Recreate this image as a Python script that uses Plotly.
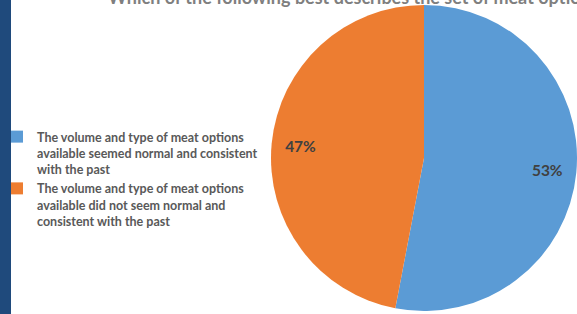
import plotly.graph_objects as go

labels = [
    "The volume and type of meat options<br>available seemed normal and consistent<br>with the past",
    "The volume and type of meat options<br>available did not seem normal and<br>consistent with the past",
]
values = [53, 47]
colors = ["#5B9BD5", "#ED7D31"]
title_text = "Which of the following best describes the set of meat options available?"

W, H = 577, 314
dom = dict(x=[271 / W, 1.0], y=[3 / H, 309 / H])

fig = go.Figure()
fig.add_trace(go.Pie(
    labels=labels,
    values=values,
    sort=False,
    direction="clockwise",
    rotation=0,
    marker=dict(colors=colors, line=dict(width=0)),
    textinfo="none",
    domain=dom,
    showlegend=True,
    hoverinfo="skip",
))
# transparent ring carrying the percentage labels (Excel places them near the rim)
fig.add_trace(go.Pie(
    labels=labels,
    values=values,
    sort=False,
    direction="clockwise",
    rotation=0,
    hole=0.62,
    marker=dict(colors=["rgba(0,0,0,0)"] * len(values), line=dict(width=0)),
    texttemplate="%{percent:.0%}",
    textposition="inside",
    insidetextorientation="horizontal",
    textfont=dict(family="Lato", size=15.5, color="#404040", weight="bold"),
    domain=dom,
    showlegend=False,
    hoverinfo="skip",
))

fig.update_layout(
    width=W, height=H,
    margin=dict(l=0, r=0, t=0, b=0, autoexpand=False),
    paper_bgcolor="white",
    plot_bgcolor="white",
    legend=dict(
        x=-3 / W, y=1 - 122 / H, xanchor="left", yanchor="top",
        font=dict(family="Lato", size=12.5, color="#595959", weight="bold"),
        valign="top",
        itemwidth=30,
        bgcolor="rgba(0,0,0,0)",
    ),
    shapes=[dict(type="rect", xref="paper", yref="paper", x0=0, x1=11 / W, y0=0, y1=1,
                 fillcolor="#1F4A7C", line=dict(width=0), layer="above")],
    annotations=[dict(text=title_text, xref="paper", yref="paper", x=106 / W, y=1 + 3 / H,
                      xanchor="left", yanchor="middle", showarrow=False,
                      font=dict(family="Lato", size=18, color="#7F7F7F", weight="bold"))],
)

fig.write_html("out.html", config={"displayModeBar": False},
               post_script="document.body.style.margin='0';")
